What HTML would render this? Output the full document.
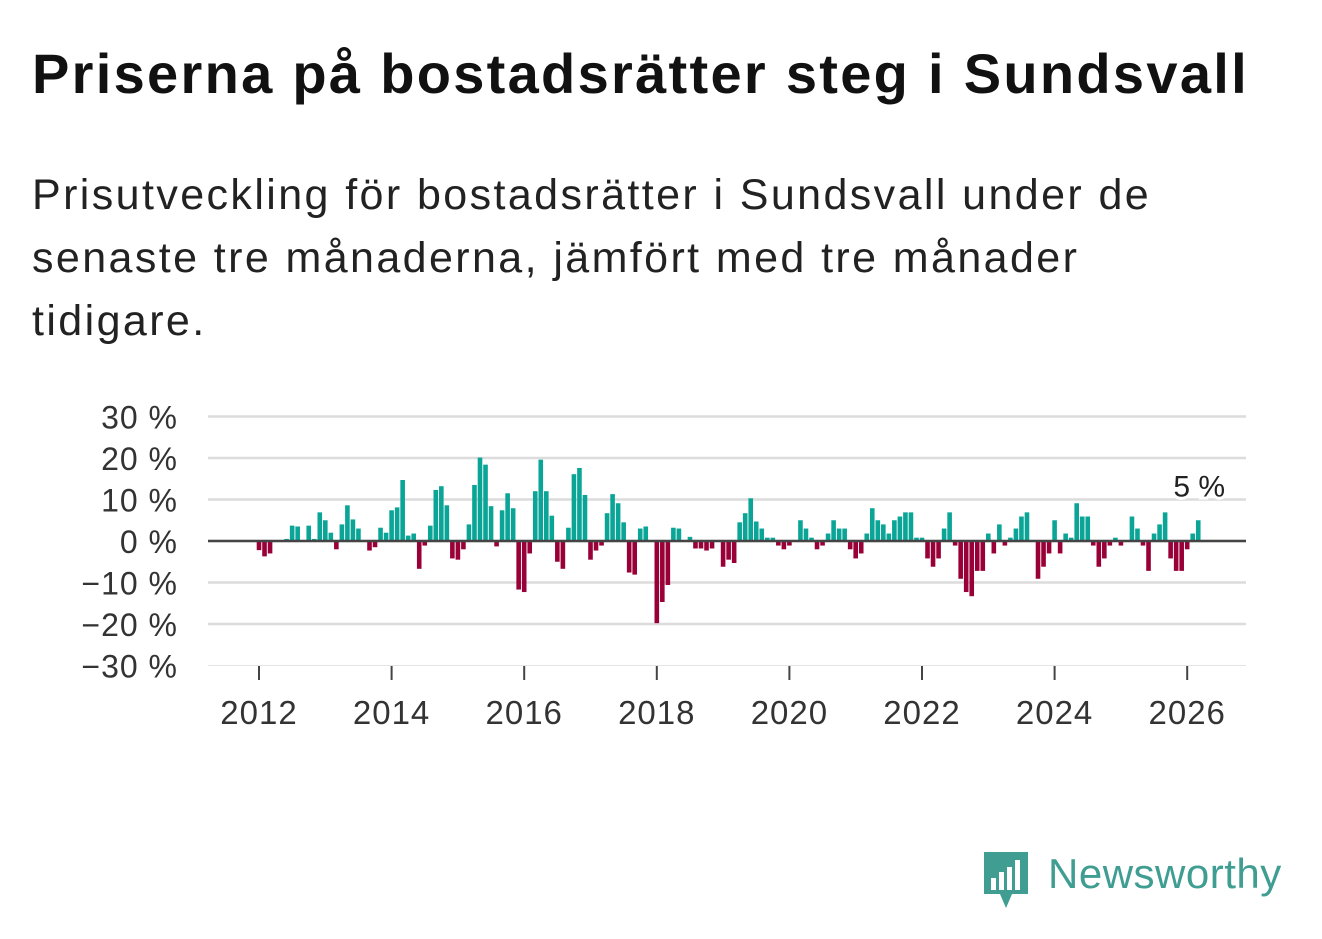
<!DOCTYPE html>
<html><head><meta charset="utf-8"><style>
body{margin:0;background:#fff;width:1322px;height:939px;overflow:hidden;font-family:"Liberation Sans","DejaVu Sans",sans-serif;}
#title{position:absolute;left:32px;top:41px;font-size:56px;font-weight:bold;color:#111;margin:0;letter-spacing:2.3px;white-space:nowrap}
#sub{position:absolute;left:32px;top:164px;font-size:43px;line-height:63px;letter-spacing:2.4px;color:#222;width:1280px;margin:0;white-space:nowrap}
svg{position:absolute;left:0;top:0}
</style></head><body>
<h1 id="title">Priserna på bostadsrätter steg i Sundsvall</h1>
<p id="sub">Prisutveckling för bostadsrätter i Sundsvall under de<br>senaste tre månaderna, jämfört med tre månader<br>tidigare.</p>
<svg id="chart" width="1322" height="939"></svg>
<div style="position:absolute;left:982px;top:850px;width:330px;height:60px">
<svg width="50" height="60" style="left:0;top:0"><path d="M2 2h44v42h-16l-6 14l-6-14h-16z" fill="#3f9d92"/><rect x="9" y="28" width="5" height="12" fill="#fff"/><rect x="17" y="22" width="5" height="18" fill="#fff"/><rect x="25" y="17" width="5" height="23" fill="#fff"/><rect x="33" y="10" width="5" height="30" fill="#fff"/></svg>
<span style="position:absolute;left:66px;top:0px;font-size:42px;color:#3f9d92;font-weight:500;letter-spacing:0.5px">Newsworthy</span>
</div>
<script>
const startYear = 2012;
const values = [-2.2,-3.7,-3.0,0,0,0.5,3.7,3.5,0,3.7,0.5,6.9,
5.0,2.0,-2.0,4.0,8.6,5.2,3.0,0,-2.3,-1.5,3.2,2.0,
7.4,8.1,14.7,1.3,1.8,-6.7,-1.1,3.7,12.3,13.2,8.6,-4.2,
-4.5,-2.0,4.0,13.5,20.1,18.4,8.4,-1.3,7.4,11.5,7.9,-11.7,
-12.3,-3.0,12.0,19.6,12.0,6.1,-5.0,-6.7,3.2,16.1,17.6,11.1,
-4.5,-2.3,-1.1,6.7,11.3,9.1,4.5,-7.6,-8.1,3.0,3.5,0,
-19.8,-14.7,-10.6,3.2,3.0,0,1.0,-1.8,-1.8,-2.3,-1.8,0,
-6.2,-4.5,-5.3,4.5,6.7,10.3,4.7,3.0,0.8,0.8,-1.1,-2.0,
-1.1,0,5.0,3.0,0.8,-2.0,-1.1,1.8,5.0,3.0,3.0,-2.0,
-4.2,-3.0,1.8,7.9,5.0,4.0,1.8,5.0,5.9,6.9,6.9,0.8,
0.8,-4.2,-6.2,-4.2,3.0,6.9,-1.1,-9.1,-12.3,-13.3,-7.2,-7.2,
1.8,-3.0,4.0,-1.1,0.8,3.0,5.9,6.9,0,-9.1,-6.2,-3.0,
5.0,-3.0,1.8,0.8,9.1,5.9,5.9,-1.1,-6.2,-4.2,-1.1,0.8,
-1.1,0,5.9,3.0,-1.1,-7.2,1.8,4.0,6.9,-4.2,-7.2,-7.2,
-2.0,1.8,5.0];
const yTicks = [30,20,10,0,-10,-20,-30];
const xTicks = [2012,2014,2016,2018,2020,2022,2024,2026];
const lastLabel = "5 %";
const NS="http://www.w3.org/2000/svg";
const svg=document.getElementById('chart');
const x0=259, pxYear=66.3, y0=541, pxPct=4.15;
const xs=t=>x0+(t-startYear)*pxYear;
const ys=v=>y0-v*pxPct;
function mk(tag,attrs){const e=document.createElementNS(NS,tag);for(const k in attrs)e.setAttribute(k,attrs[k]);svg.appendChild(e);return e;}
yTicks.forEach(v=>{
  const g=mk('line',{x1:208,x2:1246,y1:ys(v),y2:ys(v),stroke:v===-30?'#e4e4e4':'#dcdcdc','stroke-width':v===-30?1:2.5});
  
  
  const t=mk('text',{x:178,y:ys(v)+12,'text-anchor':'end','font-size':32,fill:'#333','letter-spacing':1});
  t.textContent=(v<0?'\u2212'+(-v):v)+' %';
  
  
});
xTicks.forEach(yr=>{
  const l=mk('line',{x1:xs(yr),x2:xs(yr),y1:666,y2:680,stroke:'#444','stroke-width':2});
  
  
  const t=mk('text',{x:xs(yr),y:724,'text-anchor':'middle','font-size':33,fill:'#333','letter-spacing':1});
  t.textContent=yr;
  
  
});
values.forEach((v,i)=>{
  const cx=xs(startYear+i/12);
  const r=mk('rect',{x:cx-2.3,y:Math.min(ys(v),y0),width:4.6,height:Math.abs(ys(v)-y0),fill:v>=0?'#0aa596':'#990038'});
  
  
});
const z=mk('line',{x1:208,x2:1246,y1:y0,y2:y0,stroke:'#444','stroke-width':2.5});


const li=values.length-1;
const lb=mk('text',{x:xs(startYear+li/12)+1,y:ys(values[li])-24,'text-anchor':'middle','font-size':30,fill:'#222',stroke:'#fff','stroke-width':6,'paint-order':'stroke'});
lb.textContent=lastLabel;


</script>
</body></html>
